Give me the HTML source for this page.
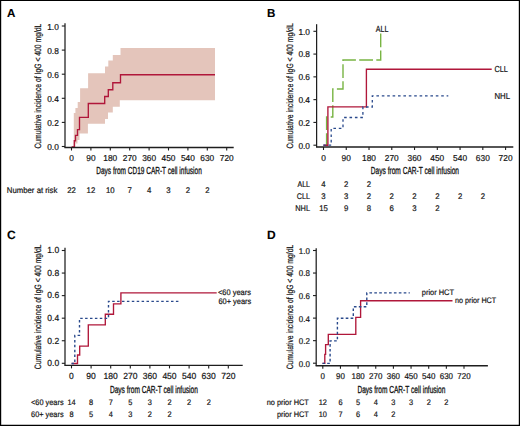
<!DOCTYPE html>
<html><head><meta charset="utf-8"><title>Figure</title>
<style>
html,body{margin:0;padding:0;background:#fff;}
body{width:520px;height:426px;overflow:hidden;}
svg{display:block;font-family:"Liberation Sans", sans-serif;text-rendering:geometricPrecision;}
</style></head><body>
<svg width="520" height="426" viewBox="0 0 520 426">
<rect x="0" y="0" width="520" height="426" fill="#fff"/>
<path d="M73.8,147 V113 H75.4 V108 H77.7 V102 H80.1 V88.3 H88.1 V73.2 H105 V66.6 H108.3 V60.6 H112.8 V54.9 H120.5 V48 H215 V100.3 H119.8 V106.8 H112.8 V112.5 H108 V119 H105 V123.7 H87.9 V133.4 H79.5 V140 H77.5 V143.5 H75.5 V147 Z" fill="#e4c5bb"/>
<path d="M71.6,146.8 H74.3 V140.7 H75.5 V135.3 H77.5 V129.6 H79.5 V117.4 H88.3 V103.5 H104.7 V96.5 H108.3 V89.7 H112.8 V82.7 H120.5 V74.7 H215" stroke="#b0173a" stroke-width="1.35" fill="none"/>
<path d="M65,23.3 V147.5" stroke="#1e1e1e" stroke-width="1.25" fill="none"/>
<path d="M64.4,147.5 H233.7" stroke="#1e1e1e" stroke-width="1.4" fill="none"/>
<path d="M61.8,146.50 H65" stroke="#1e1e1e" stroke-width="1.1" fill="none"/>
<text transform="translate(58.8,150.20) scale(0.97,1)" font-size="8.6" text-anchor="end" font-weight="normal" fill="#141414" stroke="#141414" stroke-width="0.2">0.0</text>
<path d="M61.8,122.40 H65" stroke="#1e1e1e" stroke-width="1.1" fill="none"/>
<text transform="translate(58.8,126.10) scale(0.97,1)" font-size="8.6" text-anchor="end" font-weight="normal" fill="#141414" stroke="#141414" stroke-width="0.2">0.2</text>
<path d="M61.8,98.30 H65" stroke="#1e1e1e" stroke-width="1.1" fill="none"/>
<text transform="translate(58.8,102.00) scale(0.97,1)" font-size="8.6" text-anchor="end" font-weight="normal" fill="#141414" stroke="#141414" stroke-width="0.2">0.4</text>
<path d="M61.8,74.20 H65" stroke="#1e1e1e" stroke-width="1.1" fill="none"/>
<text transform="translate(58.8,77.90) scale(0.97,1)" font-size="8.6" text-anchor="end" font-weight="normal" fill="#141414" stroke="#141414" stroke-width="0.2">0.6</text>
<path d="M61.8,50.10 H65" stroke="#1e1e1e" stroke-width="1.1" fill="none"/>
<text transform="translate(58.8,53.80) scale(0.97,1)" font-size="8.6" text-anchor="end" font-weight="normal" fill="#141414" stroke="#141414" stroke-width="0.2">0.8</text>
<path d="M61.8,26.00 H65" stroke="#1e1e1e" stroke-width="1.1" fill="none"/>
<text transform="translate(58.8,29.70) scale(0.97,1)" font-size="8.6" text-anchor="end" font-weight="normal" fill="#141414" stroke="#141414" stroke-width="0.2">1.0</text>
<path d="M71.50,147.5 V150.5" stroke="#1e1e1e" stroke-width="1.1" fill="none"/>
<text transform="translate(71.50,160.9) scale(0.97,1)" font-size="8.6" text-anchor="middle" font-weight="normal" fill="#141414" stroke="#141414" stroke-width="0.2">0</text>
<path d="M90.90,147.5 V150.5" stroke="#1e1e1e" stroke-width="1.1" fill="none"/>
<text transform="translate(90.90,160.9) scale(0.97,1)" font-size="8.6" text-anchor="middle" font-weight="normal" fill="#141414" stroke="#141414" stroke-width="0.2">90</text>
<path d="M110.30,147.5 V150.5" stroke="#1e1e1e" stroke-width="1.1" fill="none"/>
<text transform="translate(110.30,160.9) scale(0.97,1)" font-size="8.6" text-anchor="middle" font-weight="normal" fill="#141414" stroke="#141414" stroke-width="0.2">180</text>
<path d="M129.70,147.5 V150.5" stroke="#1e1e1e" stroke-width="1.1" fill="none"/>
<text transform="translate(129.70,160.9) scale(0.97,1)" font-size="8.6" text-anchor="middle" font-weight="normal" fill="#141414" stroke="#141414" stroke-width="0.2">270</text>
<path d="M149.10,147.5 V150.5" stroke="#1e1e1e" stroke-width="1.1" fill="none"/>
<text transform="translate(149.10,160.9) scale(0.97,1)" font-size="8.6" text-anchor="middle" font-weight="normal" fill="#141414" stroke="#141414" stroke-width="0.2">360</text>
<path d="M168.50,147.5 V150.5" stroke="#1e1e1e" stroke-width="1.1" fill="none"/>
<text transform="translate(168.50,160.9) scale(0.97,1)" font-size="8.6" text-anchor="middle" font-weight="normal" fill="#141414" stroke="#141414" stroke-width="0.2">450</text>
<path d="M187.90,147.5 V150.5" stroke="#1e1e1e" stroke-width="1.1" fill="none"/>
<text transform="translate(187.90,160.9) scale(0.97,1)" font-size="8.6" text-anchor="middle" font-weight="normal" fill="#141414" stroke="#141414" stroke-width="0.2">540</text>
<path d="M207.30,147.5 V150.5" stroke="#1e1e1e" stroke-width="1.1" fill="none"/>
<text transform="translate(207.30,160.9) scale(0.97,1)" font-size="8.6" text-anchor="middle" font-weight="normal" fill="#141414" stroke="#141414" stroke-width="0.2">630</text>
<path d="M226.70,147.5 V150.5" stroke="#1e1e1e" stroke-width="1.1" fill="none"/>
<text transform="translate(226.70,160.9) scale(0.97,1)" font-size="8.6" text-anchor="middle" font-weight="normal" fill="#141414" stroke="#141414" stroke-width="0.2">720</text>
<text x="96.3" y="174.0" font-size="10.2" text-anchor="start" font-weight="normal" fill="#141414" stroke="#141414" stroke-width="0.32" textLength="105.5" lengthAdjust="spacingAndGlyphs">Days from CD19 CAR-T cell infusion</text>
<text transform="translate(40.9,148.6) rotate(-90)" x="0" y="0" font-size="9.2" fill="#141414" stroke="#141414" stroke-width="0.2" textLength="125" lengthAdjust="spacingAndGlyphs">Cumulative incidence of IgG &lt; 400 mg/dL</text>
<path d="M316.6,24.2 V147.0" stroke="#1e1e1e" stroke-width="1.25" fill="none"/>
<path d="M316.0,147.0 H513.3" stroke="#1e1e1e" stroke-width="1.4" fill="none"/>
<path d="M313.40000000000003,145.20 H316.6" stroke="#1e1e1e" stroke-width="1.1" fill="none"/>
<text transform="translate(310.0,148.50) scale(0.97,1)" font-size="8.6" text-anchor="end" font-weight="normal" fill="#141414" stroke="#141414" stroke-width="0.2">0.0</text>
<path d="M313.40000000000003,122.42 H316.6" stroke="#1e1e1e" stroke-width="1.1" fill="none"/>
<text transform="translate(310.0,125.72) scale(0.97,1)" font-size="8.6" text-anchor="end" font-weight="normal" fill="#141414" stroke="#141414" stroke-width="0.2">0.2</text>
<path d="M313.40000000000003,99.64 H316.6" stroke="#1e1e1e" stroke-width="1.1" fill="none"/>
<text transform="translate(310.0,102.94) scale(0.97,1)" font-size="8.6" text-anchor="end" font-weight="normal" fill="#141414" stroke="#141414" stroke-width="0.2">0.4</text>
<path d="M313.40000000000003,76.86 H316.6" stroke="#1e1e1e" stroke-width="1.1" fill="none"/>
<text transform="translate(310.0,80.16) scale(0.97,1)" font-size="8.6" text-anchor="end" font-weight="normal" fill="#141414" stroke="#141414" stroke-width="0.2">0.6</text>
<path d="M313.40000000000003,54.08 H316.6" stroke="#1e1e1e" stroke-width="1.1" fill="none"/>
<text transform="translate(310.0,57.38) scale(0.97,1)" font-size="8.6" text-anchor="end" font-weight="normal" fill="#141414" stroke="#141414" stroke-width="0.2">0.8</text>
<path d="M313.40000000000003,31.30 H316.6" stroke="#1e1e1e" stroke-width="1.1" fill="none"/>
<text transform="translate(310.0,34.60) scale(0.97,1)" font-size="8.6" text-anchor="end" font-weight="normal" fill="#141414" stroke="#141414" stroke-width="0.2">1.0</text>
<path d="M323.50,147.0 V150.0" stroke="#1e1e1e" stroke-width="1.1" fill="none"/>
<text transform="translate(323.50,161.0) scale(0.97,1)" font-size="8.6" text-anchor="middle" font-weight="normal" fill="#141414" stroke="#141414" stroke-width="0.2">0</text>
<path d="M346.26,147.0 V150.0" stroke="#1e1e1e" stroke-width="1.1" fill="none"/>
<text transform="translate(346.26,161.0) scale(0.97,1)" font-size="8.6" text-anchor="middle" font-weight="normal" fill="#141414" stroke="#141414" stroke-width="0.2">90</text>
<path d="M369.02,147.0 V150.0" stroke="#1e1e1e" stroke-width="1.1" fill="none"/>
<text transform="translate(369.02,161.0) scale(0.97,1)" font-size="8.6" text-anchor="middle" font-weight="normal" fill="#141414" stroke="#141414" stroke-width="0.2">180</text>
<path d="M391.78,147.0 V150.0" stroke="#1e1e1e" stroke-width="1.1" fill="none"/>
<text transform="translate(391.78,161.0) scale(0.97,1)" font-size="8.6" text-anchor="middle" font-weight="normal" fill="#141414" stroke="#141414" stroke-width="0.2">270</text>
<path d="M414.54,147.0 V150.0" stroke="#1e1e1e" stroke-width="1.1" fill="none"/>
<text transform="translate(414.54,161.0) scale(0.97,1)" font-size="8.6" text-anchor="middle" font-weight="normal" fill="#141414" stroke="#141414" stroke-width="0.2">360</text>
<path d="M437.30,147.0 V150.0" stroke="#1e1e1e" stroke-width="1.1" fill="none"/>
<text transform="translate(437.30,161.0) scale(0.97,1)" font-size="8.6" text-anchor="middle" font-weight="normal" fill="#141414" stroke="#141414" stroke-width="0.2">450</text>
<path d="M460.06,147.0 V150.0" stroke="#1e1e1e" stroke-width="1.1" fill="none"/>
<text transform="translate(460.06,161.0) scale(0.97,1)" font-size="8.6" text-anchor="middle" font-weight="normal" fill="#141414" stroke="#141414" stroke-width="0.2">540</text>
<path d="M482.82,147.0 V150.0" stroke="#1e1e1e" stroke-width="1.1" fill="none"/>
<text transform="translate(482.82,161.0) scale(0.97,1)" font-size="8.6" text-anchor="middle" font-weight="normal" fill="#141414" stroke="#141414" stroke-width="0.2">630</text>
<path d="M505.58,147.0 V150.0" stroke="#1e1e1e" stroke-width="1.1" fill="none"/>
<text transform="translate(505.58,161.0) scale(0.97,1)" font-size="8.6" text-anchor="middle" font-weight="normal" fill="#141414" stroke="#141414" stroke-width="0.2">720</text>
<text x="370.8" y="174.3" font-size="10.2" text-anchor="start" font-weight="normal" fill="#141414" stroke="#141414" stroke-width="0.32" textLength="88.2" lengthAdjust="spacingAndGlyphs">Days from CAR-T cell infusion</text>
<text transform="translate(292.7,148.6) rotate(-90)" x="0" y="0" font-size="9.2" fill="#141414" stroke="#141414" stroke-width="0.2" textLength="125.3" lengthAdjust="spacingAndGlyphs">Cumulative incidence of IgG &lt; 400 mg/dL</text>
<path d="M65,247.7 V365.4" stroke="#1e1e1e" stroke-width="1.25" fill="none"/>
<path d="M64.4,365.4 H242.7" stroke="#1e1e1e" stroke-width="1.4" fill="none"/>
<path d="M61.8,363.30 H65" stroke="#1e1e1e" stroke-width="1.1" fill="none"/>
<text transform="translate(59.2,366.10) scale(0.97,1)" font-size="8.8" text-anchor="end" font-weight="normal" fill="#141414" stroke="#141414" stroke-width="0.2">0.0</text>
<path d="M61.8,340.74 H65" stroke="#1e1e1e" stroke-width="1.1" fill="none"/>
<text transform="translate(59.2,343.54) scale(0.97,1)" font-size="8.8" text-anchor="end" font-weight="normal" fill="#141414" stroke="#141414" stroke-width="0.2">0.2</text>
<path d="M61.8,318.18 H65" stroke="#1e1e1e" stroke-width="1.1" fill="none"/>
<text transform="translate(59.2,320.98) scale(0.97,1)" font-size="8.8" text-anchor="end" font-weight="normal" fill="#141414" stroke="#141414" stroke-width="0.2">0.4</text>
<path d="M61.8,295.62 H65" stroke="#1e1e1e" stroke-width="1.1" fill="none"/>
<text transform="translate(59.2,298.42) scale(0.97,1)" font-size="8.8" text-anchor="end" font-weight="normal" fill="#141414" stroke="#141414" stroke-width="0.2">0.6</text>
<path d="M61.8,273.06 H65" stroke="#1e1e1e" stroke-width="1.1" fill="none"/>
<text transform="translate(59.2,275.86) scale(0.97,1)" font-size="8.8" text-anchor="end" font-weight="normal" fill="#141414" stroke="#141414" stroke-width="0.2">0.8</text>
<path d="M61.8,250.50 H65" stroke="#1e1e1e" stroke-width="1.1" fill="none"/>
<text transform="translate(59.2,253.30) scale(0.97,1)" font-size="8.8" text-anchor="end" font-weight="normal" fill="#141414" stroke="#141414" stroke-width="0.2">1.0</text>
<path d="M71.50,365.4 V368.4" stroke="#1e1e1e" stroke-width="1.1" fill="none"/>
<text transform="translate(71.50,379.4) scale(0.97,1)" font-size="8.8" text-anchor="middle" font-weight="normal" fill="#141414" stroke="#141414" stroke-width="0.2">0</text>
<path d="M91.10,365.4 V368.4" stroke="#1e1e1e" stroke-width="1.1" fill="none"/>
<text transform="translate(91.10,379.4) scale(0.97,1)" font-size="8.8" text-anchor="middle" font-weight="normal" fill="#141414" stroke="#141414" stroke-width="0.2">90</text>
<path d="M110.70,365.4 V368.4" stroke="#1e1e1e" stroke-width="1.1" fill="none"/>
<text transform="translate(110.70,379.4) scale(0.97,1)" font-size="8.8" text-anchor="middle" font-weight="normal" fill="#141414" stroke="#141414" stroke-width="0.2">180</text>
<path d="M130.30,365.4 V368.4" stroke="#1e1e1e" stroke-width="1.1" fill="none"/>
<text transform="translate(130.30,379.4) scale(0.97,1)" font-size="8.8" text-anchor="middle" font-weight="normal" fill="#141414" stroke="#141414" stroke-width="0.2">270</text>
<path d="M149.90,365.4 V368.4" stroke="#1e1e1e" stroke-width="1.1" fill="none"/>
<text transform="translate(149.90,379.4) scale(0.97,1)" font-size="8.8" text-anchor="middle" font-weight="normal" fill="#141414" stroke="#141414" stroke-width="0.2">360</text>
<path d="M169.50,365.4 V368.4" stroke="#1e1e1e" stroke-width="1.1" fill="none"/>
<text transform="translate(169.50,379.4) scale(0.97,1)" font-size="8.8" text-anchor="middle" font-weight="normal" fill="#141414" stroke="#141414" stroke-width="0.2">450</text>
<path d="M189.10,365.4 V368.4" stroke="#1e1e1e" stroke-width="1.1" fill="none"/>
<text transform="translate(189.10,379.4) scale(0.97,1)" font-size="8.8" text-anchor="middle" font-weight="normal" fill="#141414" stroke="#141414" stroke-width="0.2">540</text>
<path d="M208.70,365.4 V368.4" stroke="#1e1e1e" stroke-width="1.1" fill="none"/>
<text transform="translate(208.70,379.4) scale(0.97,1)" font-size="8.8" text-anchor="middle" font-weight="normal" fill="#141414" stroke="#141414" stroke-width="0.2">630</text>
<path d="M228.30,365.4 V368.4" stroke="#1e1e1e" stroke-width="1.1" fill="none"/>
<text transform="translate(228.30,379.4) scale(0.97,1)" font-size="8.8" text-anchor="middle" font-weight="normal" fill="#141414" stroke="#141414" stroke-width="0.2">720</text>
<text x="109.9" y="392.5" font-size="10.2" text-anchor="start" font-weight="normal" fill="#141414" stroke="#141414" stroke-width="0.32" textLength="88" lengthAdjust="spacingAndGlyphs">Days from CAR-T cell infusion</text>
<text transform="translate(40.9,369.2) rotate(-90)" x="0" y="0" font-size="9.2" fill="#141414" stroke="#141414" stroke-width="0.2" textLength="124.8" lengthAdjust="spacingAndGlyphs">Cumulative incidence of IgG &lt; 400 mg/dL</text>
<path d="M316.2,248.2 V365.7" stroke="#1e1e1e" stroke-width="1.25" fill="none"/>
<path d="M315.59999999999997,365.7 H487.9" stroke="#1e1e1e" stroke-width="1.4" fill="none"/>
<path d="M313.0,363.20 H316.2" stroke="#1e1e1e" stroke-width="1.1" fill="none"/>
<text transform="translate(309.9,366.60) scale(0.95,1)" font-size="8.4" text-anchor="end" font-weight="normal" fill="#141414" stroke="#141414" stroke-width="0.2">0.0</text>
<path d="M313.0,340.66 H316.2" stroke="#1e1e1e" stroke-width="1.1" fill="none"/>
<text transform="translate(309.9,344.06) scale(0.95,1)" font-size="8.4" text-anchor="end" font-weight="normal" fill="#141414" stroke="#141414" stroke-width="0.2">0.2</text>
<path d="M313.0,318.12 H316.2" stroke="#1e1e1e" stroke-width="1.1" fill="none"/>
<text transform="translate(309.9,321.52) scale(0.95,1)" font-size="8.4" text-anchor="end" font-weight="normal" fill="#141414" stroke="#141414" stroke-width="0.2">0.4</text>
<path d="M313.0,295.58 H316.2" stroke="#1e1e1e" stroke-width="1.1" fill="none"/>
<text transform="translate(309.9,298.98) scale(0.95,1)" font-size="8.4" text-anchor="end" font-weight="normal" fill="#141414" stroke="#141414" stroke-width="0.2">0.6</text>
<path d="M313.0,273.04 H316.2" stroke="#1e1e1e" stroke-width="1.1" fill="none"/>
<text transform="translate(309.9,276.44) scale(0.95,1)" font-size="8.4" text-anchor="end" font-weight="normal" fill="#141414" stroke="#141414" stroke-width="0.2">0.8</text>
<path d="M313.0,250.50 H316.2" stroke="#1e1e1e" stroke-width="1.1" fill="none"/>
<text transform="translate(309.9,253.90) scale(0.95,1)" font-size="8.4" text-anchor="end" font-weight="normal" fill="#141414" stroke="#141414" stroke-width="0.2">1.0</text>
<path d="M322.80,365.7 V368.7" stroke="#1e1e1e" stroke-width="1.1" fill="none"/>
<text transform="translate(322.80,379.2) scale(0.95,1)" font-size="8.4" text-anchor="middle" font-weight="normal" fill="#141414" stroke="#141414" stroke-width="0.2">0</text>
<path d="M340.45,365.7 V368.7" stroke="#1e1e1e" stroke-width="1.1" fill="none"/>
<text transform="translate(340.45,379.2) scale(0.95,1)" font-size="8.4" text-anchor="middle" font-weight="normal" fill="#141414" stroke="#141414" stroke-width="0.2">90</text>
<path d="M358.10,365.7 V368.7" stroke="#1e1e1e" stroke-width="1.1" fill="none"/>
<text transform="translate(358.10,379.2) scale(0.95,1)" font-size="8.4" text-anchor="middle" font-weight="normal" fill="#141414" stroke="#141414" stroke-width="0.2">180</text>
<path d="M375.75,365.7 V368.7" stroke="#1e1e1e" stroke-width="1.1" fill="none"/>
<text transform="translate(375.75,379.2) scale(0.95,1)" font-size="8.4" text-anchor="middle" font-weight="normal" fill="#141414" stroke="#141414" stroke-width="0.2">270</text>
<path d="M393.40,365.7 V368.7" stroke="#1e1e1e" stroke-width="1.1" fill="none"/>
<text transform="translate(393.40,379.2) scale(0.95,1)" font-size="8.4" text-anchor="middle" font-weight="normal" fill="#141414" stroke="#141414" stroke-width="0.2">360</text>
<path d="M411.05,365.7 V368.7" stroke="#1e1e1e" stroke-width="1.1" fill="none"/>
<text transform="translate(411.05,379.2) scale(0.95,1)" font-size="8.4" text-anchor="middle" font-weight="normal" fill="#141414" stroke="#141414" stroke-width="0.2">450</text>
<path d="M428.70,365.7 V368.7" stroke="#1e1e1e" stroke-width="1.1" fill="none"/>
<text transform="translate(428.70,379.2) scale(0.95,1)" font-size="8.4" text-anchor="middle" font-weight="normal" fill="#141414" stroke="#141414" stroke-width="0.2">540</text>
<path d="M446.35,365.7 V368.7" stroke="#1e1e1e" stroke-width="1.1" fill="none"/>
<text transform="translate(446.35,379.2) scale(0.95,1)" font-size="8.4" text-anchor="middle" font-weight="normal" fill="#141414" stroke="#141414" stroke-width="0.2">630</text>
<path d="M464.00,365.7 V368.7" stroke="#1e1e1e" stroke-width="1.1" fill="none"/>
<text transform="translate(464.00,379.2) scale(0.95,1)" font-size="8.4" text-anchor="middle" font-weight="normal" fill="#141414" stroke="#141414" stroke-width="0.2">720</text>
<text x="357.4" y="392.5" font-size="10.2" text-anchor="start" font-weight="normal" fill="#141414" stroke="#141414" stroke-width="0.32" textLength="88" lengthAdjust="spacingAndGlyphs">Days from CAR-T cell infusion</text>
<text transform="translate(292.7,369.3) rotate(-90)" x="0" y="0" font-size="9.2" fill="#141414" stroke="#141414" stroke-width="0.2" textLength="124.5" lengthAdjust="spacingAndGlyphs">Cumulative incidence of IgG &lt; 400 mg/dL</text>
<path d="M326.6,145.2 V117 H332.8 V89 H343 V60 H380.7 V31.3" stroke="#78b443" stroke-width="1.4" fill="none" stroke-dasharray="13.8 3.3" stroke-dashoffset="1.90"/>
<path d="M323.5,145.2 H327.9 V106.8 H366.4 V69.2 H491.7" stroke="#b0173a" stroke-width="1.35" fill="none"/>
<path d="M323.3,145.2 H331.2 V128.4 H343 V117.5 H362.9 V107 H372.3 V95.8 H448.3" stroke="#29498c" stroke-width="1.3" fill="none" stroke-dasharray="2.6 2.8" stroke-dashoffset="0.10"/>
<path d="M71.6,363.5 H77.5 V355 H79.7 V346.1 H88.3 V324.9 H105.3 V314.2 H113.5 V303.8 H120.9 V292.9 H216.7" stroke="#b0173a" stroke-width="1.35" fill="none"/>
<path d="M71.6,363.5 H74.8 V335.4 H79.5 V318.4 H108.5 V301.4 H178.8" stroke="#29498c" stroke-width="1.4" fill="none" stroke-dasharray="2.5 2.4" stroke-dashoffset="0.20"/>
<path d="M322.5,363.4 H324.8 V354.3 H325.6 V344.6 H328.3 V334.4 H355.8 V317.4 H360.6 V300.7 H452.5" stroke="#b0173a" stroke-width="1.35" fill="none"/>
<path d="M322.5,363.4 H330.1 V340.9 H337.4 V318.2 H353.3 V306.8 H366.8 V292.9 H409.8" stroke="#29498c" stroke-width="1.4" fill="none" stroke-dasharray="2.65 2.25" stroke-dashoffset="0.20"/>
<text x="7.1" y="17.0" font-size="11.6" text-anchor="start" font-weight="bold" fill="#000" stroke="#000" stroke-width="0.12">A</text>
<text x="267.0" y="17.1" font-size="11.6" text-anchor="start" font-weight="bold" fill="#000" stroke="#000" stroke-width="0.12">B</text>
<text x="7.1" y="238.5" font-size="12.0" text-anchor="start" font-weight="bold" fill="#000" stroke="#000" stroke-width="0.12">C</text>
<text x="267.1" y="238.5" font-size="12.0" text-anchor="start" font-weight="bold" fill="#000" stroke="#000" stroke-width="0.12">D</text>
<text transform="translate(375.8,31.8) scale(0.8,1)" font-size="8.9" text-anchor="start" font-weight="normal" fill="#141414" stroke="#141414" stroke-width="0.2">ALL</text>
<text transform="translate(494.5,71.8) scale(0.84,1)" font-size="8.7" text-anchor="start" font-weight="normal" fill="#141414" stroke="#141414" stroke-width="0.2">CLL</text>
<text transform="translate(494.4,98.8) scale(0.9,1)" font-size="8.7" text-anchor="start" font-weight="normal" fill="#141414" stroke="#141414" stroke-width="0.2">NHL</text>
<text transform="translate(218.0,295.4) scale(0.93,1)" font-size="8.0" text-anchor="start" font-weight="normal" fill="#141414" stroke="#141414" stroke-width="0.2">&lt;60 years</text>
<text transform="translate(218.4,304.0) scale(0.93,1)" font-size="8.0" text-anchor="start" font-weight="normal" fill="#141414" stroke="#141414" stroke-width="0.2">60+ years</text>
<text transform="translate(421.8,295.4) scale(0.93,1)" font-size="8.0" text-anchor="start" font-weight="normal" fill="#141414" stroke="#141414" stroke-width="0.2">prior HCT</text>
<text transform="translate(455.0,303.2) scale(0.9,1)" font-size="8.0" text-anchor="start" font-weight="normal" fill="#141414" stroke="#141414" stroke-width="0.2">no prior HCT</text>
<text transform="translate(6.8,193.4) scale(0.95,1)" font-size="8.2" text-anchor="start" font-weight="normal" fill="#141414" stroke="#141414" stroke-width="0.2">Number at risk</text>
<text transform="translate(71.50,193.4) scale(0.95,1)" font-size="8.2" text-anchor="middle" font-weight="normal" fill="#141414" stroke="#141414" stroke-width="0.2">22</text>
<text transform="translate(90.90,193.4) scale(0.95,1)" font-size="8.2" text-anchor="middle" font-weight="normal" fill="#141414" stroke="#141414" stroke-width="0.2">12</text>
<text transform="translate(110.30,193.4) scale(0.95,1)" font-size="8.2" text-anchor="middle" font-weight="normal" fill="#141414" stroke="#141414" stroke-width="0.2">10</text>
<text transform="translate(129.70,193.4) scale(0.95,1)" font-size="8.2" text-anchor="middle" font-weight="normal" fill="#141414" stroke="#141414" stroke-width="0.2">7</text>
<text transform="translate(149.10,193.4) scale(0.95,1)" font-size="8.2" text-anchor="middle" font-weight="normal" fill="#141414" stroke="#141414" stroke-width="0.2">4</text>
<text transform="translate(168.50,193.4) scale(0.95,1)" font-size="8.2" text-anchor="middle" font-weight="normal" fill="#141414" stroke="#141414" stroke-width="0.2">3</text>
<text transform="translate(187.90,193.4) scale(0.95,1)" font-size="8.2" text-anchor="middle" font-weight="normal" fill="#141414" stroke="#141414" stroke-width="0.2">2</text>
<text transform="translate(207.30,193.4) scale(0.95,1)" font-size="8.2" text-anchor="middle" font-weight="normal" fill="#141414" stroke="#141414" stroke-width="0.2">2</text>
<text transform="translate(310.0,186.9) scale(0.86,1)" font-size="8.2" text-anchor="end" font-weight="normal" fill="#141414" stroke="#141414" stroke-width="0.2">ALL</text>
<text transform="translate(323.50,186.9) scale(0.95,1)" font-size="8.2" text-anchor="middle" font-weight="normal" fill="#141414" stroke="#141414" stroke-width="0.2">4</text>
<text transform="translate(346.26,186.9) scale(0.95,1)" font-size="8.2" text-anchor="middle" font-weight="normal" fill="#141414" stroke="#141414" stroke-width="0.2">2</text>
<text transform="translate(369.02,186.9) scale(0.95,1)" font-size="8.2" text-anchor="middle" font-weight="normal" fill="#141414" stroke="#141414" stroke-width="0.2">2</text>
<text transform="translate(310.0,198.8) scale(0.88,1)" font-size="8.2" text-anchor="end" font-weight="normal" fill="#141414" stroke="#141414" stroke-width="0.2">CLL</text>
<text transform="translate(323.50,198.8) scale(0.95,1)" font-size="8.2" text-anchor="middle" font-weight="normal" fill="#141414" stroke="#141414" stroke-width="0.2">3</text>
<text transform="translate(346.26,198.8) scale(0.95,1)" font-size="8.2" text-anchor="middle" font-weight="normal" fill="#141414" stroke="#141414" stroke-width="0.2">3</text>
<text transform="translate(369.02,198.8) scale(0.95,1)" font-size="8.2" text-anchor="middle" font-weight="normal" fill="#141414" stroke="#141414" stroke-width="0.2">2</text>
<text transform="translate(391.78,198.8) scale(0.95,1)" font-size="8.2" text-anchor="middle" font-weight="normal" fill="#141414" stroke="#141414" stroke-width="0.2">2</text>
<text transform="translate(414.54,198.8) scale(0.95,1)" font-size="8.2" text-anchor="middle" font-weight="normal" fill="#141414" stroke="#141414" stroke-width="0.2">2</text>
<text transform="translate(437.30,198.8) scale(0.95,1)" font-size="8.2" text-anchor="middle" font-weight="normal" fill="#141414" stroke="#141414" stroke-width="0.2">2</text>
<text transform="translate(460.06,198.8) scale(0.95,1)" font-size="8.2" text-anchor="middle" font-weight="normal" fill="#141414" stroke="#141414" stroke-width="0.2">2</text>
<text transform="translate(482.82,198.8) scale(0.95,1)" font-size="8.2" text-anchor="middle" font-weight="normal" fill="#141414" stroke="#141414" stroke-width="0.2">2</text>
<text transform="translate(310.0,210.5) scale(0.9,1)" font-size="8.2" text-anchor="end" font-weight="normal" fill="#141414" stroke="#141414" stroke-width="0.2">NHL</text>
<text transform="translate(323.50,210.5) scale(0.95,1)" font-size="8.2" text-anchor="middle" font-weight="normal" fill="#141414" stroke="#141414" stroke-width="0.2">15</text>
<text transform="translate(346.26,210.5) scale(0.95,1)" font-size="8.2" text-anchor="middle" font-weight="normal" fill="#141414" stroke="#141414" stroke-width="0.2">9</text>
<text transform="translate(369.02,210.5) scale(0.95,1)" font-size="8.2" text-anchor="middle" font-weight="normal" fill="#141414" stroke="#141414" stroke-width="0.2">8</text>
<text transform="translate(391.78,210.5) scale(0.95,1)" font-size="8.2" text-anchor="middle" font-weight="normal" fill="#141414" stroke="#141414" stroke-width="0.2">6</text>
<text transform="translate(414.54,210.5) scale(0.95,1)" font-size="8.2" text-anchor="middle" font-weight="normal" fill="#141414" stroke="#141414" stroke-width="0.2">3</text>
<text transform="translate(437.30,210.5) scale(0.95,1)" font-size="8.2" text-anchor="middle" font-weight="normal" fill="#141414" stroke="#141414" stroke-width="0.2">2</text>
<text transform="translate(63.6,405.3) scale(0.92,1)" font-size="8.0" text-anchor="end" font-weight="normal" fill="#141414" stroke="#141414" stroke-width="0.2">&lt;60 years</text>
<text transform="translate(71.50,405.3) scale(0.92,1)" font-size="8.0" text-anchor="middle" font-weight="normal" fill="#141414" stroke="#141414" stroke-width="0.2">14</text>
<text transform="translate(91.10,405.3) scale(0.92,1)" font-size="8.0" text-anchor="middle" font-weight="normal" fill="#141414" stroke="#141414" stroke-width="0.2">8</text>
<text transform="translate(110.70,405.3) scale(0.92,1)" font-size="8.0" text-anchor="middle" font-weight="normal" fill="#141414" stroke="#141414" stroke-width="0.2">7</text>
<text transform="translate(130.30,405.3) scale(0.92,1)" font-size="8.0" text-anchor="middle" font-weight="normal" fill="#141414" stroke="#141414" stroke-width="0.2">5</text>
<text transform="translate(149.90,405.3) scale(0.92,1)" font-size="8.0" text-anchor="middle" font-weight="normal" fill="#141414" stroke="#141414" stroke-width="0.2">3</text>
<text transform="translate(169.50,405.3) scale(0.92,1)" font-size="8.0" text-anchor="middle" font-weight="normal" fill="#141414" stroke="#141414" stroke-width="0.2">2</text>
<text transform="translate(189.10,405.3) scale(0.92,1)" font-size="8.0" text-anchor="middle" font-weight="normal" fill="#141414" stroke="#141414" stroke-width="0.2">2</text>
<text transform="translate(208.70,405.3) scale(0.92,1)" font-size="8.0" text-anchor="middle" font-weight="normal" fill="#141414" stroke="#141414" stroke-width="0.2">2</text>
<text transform="translate(63.6,417.3) scale(0.92,1)" font-size="8.0" text-anchor="end" font-weight="normal" fill="#141414" stroke="#141414" stroke-width="0.2">60+ years</text>
<text transform="translate(71.50,417.3) scale(0.92,1)" font-size="8.0" text-anchor="middle" font-weight="normal" fill="#141414" stroke="#141414" stroke-width="0.2">8</text>
<text transform="translate(91.10,417.3) scale(0.92,1)" font-size="8.0" text-anchor="middle" font-weight="normal" fill="#141414" stroke="#141414" stroke-width="0.2">5</text>
<text transform="translate(110.70,417.3) scale(0.92,1)" font-size="8.0" text-anchor="middle" font-weight="normal" fill="#141414" stroke="#141414" stroke-width="0.2">4</text>
<text transform="translate(130.30,417.3) scale(0.92,1)" font-size="8.0" text-anchor="middle" font-weight="normal" fill="#141414" stroke="#141414" stroke-width="0.2">3</text>
<text transform="translate(149.90,417.3) scale(0.92,1)" font-size="8.0" text-anchor="middle" font-weight="normal" fill="#141414" stroke="#141414" stroke-width="0.2">2</text>
<text transform="translate(169.50,417.3) scale(0.92,1)" font-size="8.0" text-anchor="middle" font-weight="normal" fill="#141414" stroke="#141414" stroke-width="0.2">2</text>
<text transform="translate(308.8,405.1) scale(0.92,1)" font-size="8.0" text-anchor="end" font-weight="normal" fill="#141414" stroke="#141414" stroke-width="0.2">no prior HCT</text>
<text transform="translate(322.80,405.1) scale(0.92,1)" font-size="8.0" text-anchor="middle" font-weight="normal" fill="#141414" stroke="#141414" stroke-width="0.2">12</text>
<text transform="translate(340.45,405.1) scale(0.92,1)" font-size="8.0" text-anchor="middle" font-weight="normal" fill="#141414" stroke="#141414" stroke-width="0.2">6</text>
<text transform="translate(358.10,405.1) scale(0.92,1)" font-size="8.0" text-anchor="middle" font-weight="normal" fill="#141414" stroke="#141414" stroke-width="0.2">5</text>
<text transform="translate(375.75,405.1) scale(0.92,1)" font-size="8.0" text-anchor="middle" font-weight="normal" fill="#141414" stroke="#141414" stroke-width="0.2">4</text>
<text transform="translate(393.40,405.1) scale(0.92,1)" font-size="8.0" text-anchor="middle" font-weight="normal" fill="#141414" stroke="#141414" stroke-width="0.2">3</text>
<text transform="translate(411.05,405.1) scale(0.92,1)" font-size="8.0" text-anchor="middle" font-weight="normal" fill="#141414" stroke="#141414" stroke-width="0.2">3</text>
<text transform="translate(428.70,405.1) scale(0.92,1)" font-size="8.0" text-anchor="middle" font-weight="normal" fill="#141414" stroke="#141414" stroke-width="0.2">2</text>
<text transform="translate(446.35,405.1) scale(0.92,1)" font-size="8.0" text-anchor="middle" font-weight="normal" fill="#141414" stroke="#141414" stroke-width="0.2">2</text>
<text transform="translate(308.8,416.7) scale(0.92,1)" font-size="8.0" text-anchor="end" font-weight="normal" fill="#141414" stroke="#141414" stroke-width="0.2">prior HCT</text>
<text transform="translate(322.80,416.7) scale(0.92,1)" font-size="8.0" text-anchor="middle" font-weight="normal" fill="#141414" stroke="#141414" stroke-width="0.2">10</text>
<text transform="translate(340.45,416.7) scale(0.92,1)" font-size="8.0" text-anchor="middle" font-weight="normal" fill="#141414" stroke="#141414" stroke-width="0.2">7</text>
<text transform="translate(358.10,416.7) scale(0.92,1)" font-size="8.0" text-anchor="middle" font-weight="normal" fill="#141414" stroke="#141414" stroke-width="0.2">6</text>
<text transform="translate(375.75,416.7) scale(0.92,1)" font-size="8.0" text-anchor="middle" font-weight="normal" fill="#141414" stroke="#141414" stroke-width="0.2">4</text>
<text transform="translate(393.40,416.7) scale(0.92,1)" font-size="8.0" text-anchor="middle" font-weight="normal" fill="#141414" stroke="#141414" stroke-width="0.2">2</text>
<path d="M0,0.5 H520 M0.6,0 V426 M519.4,0 V426 M0,425.4 H520" stroke="#000" stroke-width="1.2" fill="none"/>
</svg>
</body></html>
